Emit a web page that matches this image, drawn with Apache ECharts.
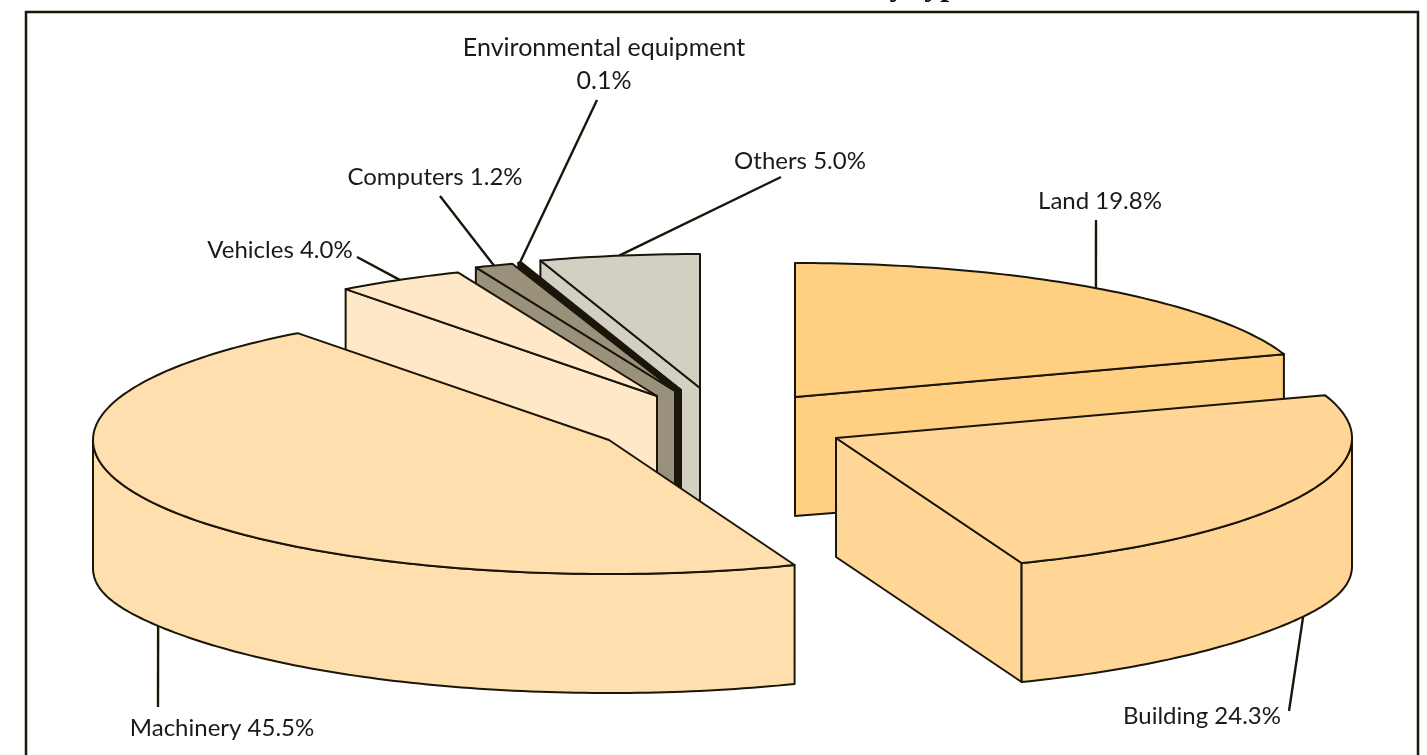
<!DOCTYPE html>
<html>
<head>
<meta charset="utf-8">
<title>Pie by type</title>
<style>
  html, body { margin: 0; padding: 0; background: #fff; }
  #chart { width: 1427px; height: 755px; }
</style>
<script src="https://cdn.jsdelivr.net/npm/echarts@6/dist/echarts.min.js"></script>
</head>
<body>
<div id="chart"></div>
<script>
  // pie order, clockwise from 12 o'clock
  const categories = ['Land', 'Building', 'Machinery', 'Vehicles', 'Computers', 'Environmental equipment', 'Others'];
  const shares = [19.8, 24.3, 45.5, 4.0, 1.2, 0.1, 5.0];
  const titleText = 'by type';

  // styles and layout, one entry per slice
  const colors = ['#FFD082', '#FFD696', '#FFDFAE', '#FFE8C8', '#9A917A', '#1A160A', '#D4CFC3'];
  const apexes = [[795, 397], [836, 438], [609, 440], [657, 396], [675, 391], [681, 390], [700, 388]];
  const leaderEnds = [[1096, 220], [1289, 711], [158, 707], [357, 257], [440, 196], [597, 100], [781, 177]];
  const labelAt = [[1100, 201], [1202, 716], [222, 728], [280, 250], [435, 177], [604, 64], [800, 161]];
  const paintOrder = [0, 6, 5, 4, 3, 2, 1];

  const radiusX = 516;
  const radiusY = 134;
  const depth = 119;
  const sideFlare = 9;    // the walls run a little longer at the far left and right
  const ink = '#1A160A';
  const fontFamily = 'Lato, sans-serif';
  const rad = Math.PI / 180;

  const total = shares.reduce((a, b) => a + b, 0);

  function startAngle(i) {
    let sum = 0;
    for (let k = 0; k < i; k++) sum += shares[k];
    return -90 + sum / total * 360;
  }

  function wallDepth(deg) {
    return depth + sideFlare * Math.pow(Math.abs(Math.cos(deg * rad)), 12);
  }

  function rimPoint(apex, deg, drop) {
    return [
      apex[0] + radiusX * Math.cos(deg * rad),
      apex[1] + radiusY * Math.sin(deg * rad) + (drop ? wallDepth(deg) : 0)
    ];
  }

  function arc(apex, from, to, drop) {
    const pts = [];
    const steps = Math.max(2, Math.ceil(Math.abs(to - from)));
    for (let s = 0; s <= steps; s++) {
      pts.push(rimPoint(apex, from + (to - from) * s / steps, drop));
    }
    return pts;
  }

  function face(points, fill, z2) {
    return {
      type: 'polygon',
      z2: z2,
      shape: { points: points },
      style: { fill: fill, stroke: ink, lineWidth: 2, lineJoin: 'round' }
    };
  }

  function radialWall(apex, deg, fill, z2) {
    const rim = rimPoint(apex, deg);
    return face([apex, rim, rimPoint(apex, deg, true), [apex[0], apex[1] + depth]], fill, z2);
  }

  function renderSlice(params, api) {
    const i = params.dataIndex;
    const apex = apexes[i];
    const fill = colors[i];
    const t0 = startAngle(i);
    const t1 = t0 + api.value(0) / total * 360;
    const mid = (t0 + t1) / 2;
    const z = paintOrder.indexOf(i) * 10;
    const children = [];

    // side walls, only the ones that face the viewer
    if (Math.sin((t0 - 90) * rad) > 0.001) children.push(radialWall(apex, t0, fill, z + 1));
    if (Math.sin((t1 + 90) * rad) > 0.001) children.push(radialWall(apex, t1, fill, z + 1));

    // front part of the rim
    const from = Math.max(t0, 0);
    const to = Math.min(t1, 180);
    if (to > from) {
      children.push(face(arc(apex, from, to, false).concat(arc(apex, to, from, true)), fill, z + 2));
    }

    // top
    children.push(face([apex].concat(arc(apex, t0, t1, false)), fill, z + 3));

    // leader and label
    const onFront = Math.sin(mid * rad) > 0;
    const start = rimPoint(apex, mid, onFront);
    children.push({
      type: 'line',
      z2: onFront ? z : z - 1,
      shape: { x1: start[0], y1: start[1], x2: leaderEnds[i][0], y2: leaderEnds[i][1] },
      style: { stroke: ink, lineWidth: 2.4 }
    });
    const isLong = categories[i].length > 12;
    children.push({
      type: 'text',
      z2: 200,
      style: {
        x: labelAt[i][0],
        y: labelAt[i][1],
        text: categories[i] + (isLong ? '\n' : ' ') + api.value(0).toFixed(1) + '%',
        fill: '#1a1a1a',
        fontFamily: fontFamily,
        fontSize: isLong ? 25 : 24,
        lineHeight: 33,
        align: 'center',
        verticalAlign: 'middle'
      }
    });
    return { type: 'group', children: children };
  }

  const chart = echarts.init(document.getElementById('chart'), null, { renderer: 'canvas' });
  chart.setOption({
    backgroundColor: '#fff',
    animation: false,
    graphic: [
      {
        type: 'rect',
        shape: { x: 26, y: 12, width: 1392, height: 760 },
        style: { fill: 'none', stroke: ink, lineWidth: 2.5 },
        silent: true
      },
      {
        type: 'text',
        style: {
          x: 922,
          y: -29,
          text: titleText,
          fill: '#111',
          fontFamily: '"Liberation Serif", serif',
          fontWeight: 'bold',
          fontSize: 32,
          align: 'center'
        },
        silent: true
      }
    ],
    series: [{
      type: 'custom',
      coordinateSystem: 'none',
      silent: true,
      renderItem: renderSlice,
      data: shares.map(function (v, i) { return { name: categories[i], value: [v] }; })
    }]
  });
</script>
</body>
</html>
